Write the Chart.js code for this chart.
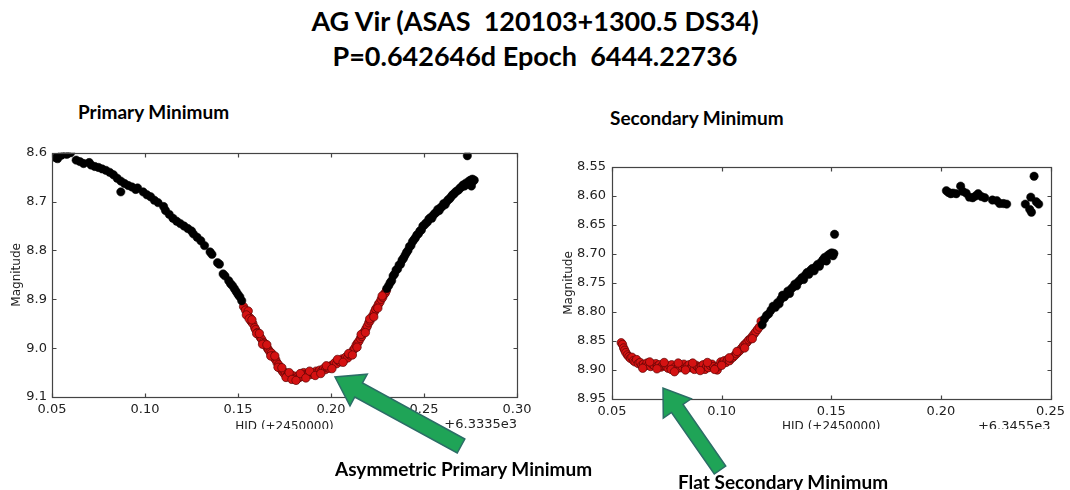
<!DOCTYPE html>
<html>
<head>
<meta charset="utf-8">
<script src="https://cdn.jsdelivr.net/npm/chart.js@4.4.1/dist/chart.umd.min.js"></script>
<style>
  html, body { margin:0; padding:0; background:#fff; }
  body { width:1070px; height:490px; position:relative; overflow:hidden; font-family:'Lato', sans-serif; }
  .t { position:absolute; white-space:pre; font-weight:bold; color:#000; font-family:'Lato', sans-serif; }
  .box { position:absolute; overflow:hidden; }
  svg { position:absolute; left:0; top:0; }
</style>
</head>
<body>
<div class="t" id="title1" style="left:0;width:1070px;text-align:center;top:4px;font-size:27px;">AG Vir (ASAS  120103+1300.5 DS34)</div>
<div class="t" id="title2" style="left:0;width:1070px;text-align:center;top:39px;font-size:27px;">P=0.642646d Epoch  6444.22736</div>
<div class="t" style="left:78px;top:100px;font-size:19px;">Primary Minimum</div>
<div class="t" style="left:610px;top:106px;font-size:19px;">Secondary Minimum</div>

<div class="box" style="left:0;top:140px;width:540px;height:289px;"><canvas id="c1" width="540" height="320"></canvas></div>
<div class="box" style="left:540px;top:150px;width:530px;height:279px;"><canvas id="c2" width="530" height="320"></canvas></div>

<svg width="1070" height="490" id="arrows"></svg>
<div class="t" style="left:335px;top:457px;font-size:19px;">Asymmetric Primary Minimum</div>
<div class="t" style="left:678px;top:470px;font-size:19px;">Flat Secondary Minimum</div>

<script>
// ---------- Primary minimum data ----------
const primXTicks = [0.05, 0.10, 0.15, 0.20, 0.25, 0.30];
const primYTicks = [8.6, 8.7, 8.8, 8.9, 9.0, 9.1];
const primOffset = '+6.3335e3';

const primBlackLeftX = [0.052,0.053,0.055,0.057,0.058,0.060,0.063,0.065,0.067,0.070,0.071,0.073,0.075,0.077,0.079,0.081,0.083,0.085,0.087,0.087,0.089,0.091,0.093,0.095,0.096,0.099,0.101,0.103,0.105,0.107,0.110,0.111,0.113,0.115,0.117,0.119,0.121,0.123,0.125,0.126,0.128,0.130,0.132,0.135,0.136,0.139,0.140,0.142,0.143,0.145,0.146,0.147,0.148,0.149,0.150,0.151,0.152];
const primBlackLeftY = [8.610,8.612,8.605,8.602,8.603,8.600,8.615,8.618,8.622,8.620,8.625,8.628,8.630,8.633,8.636,8.640,8.645,8.652,8.658,8.680,8.663,8.667,8.670,8.675,8.672,8.680,8.686,8.690,8.697,8.702,8.710,8.718,8.726,8.734,8.740,8.745,8.750,8.755,8.760,8.766,8.773,8.780,8.790,8.803,8.808,8.825,8.828,8.848,8.852,8.862,8.868,8.872,8.878,8.884,8.890,8.895,8.903];

const primRedX = [0.1530,0.1540,0.1550,0.1555,0.1565,0.1570,0.1580,0.1590,0.1595,0.1605,0.1610,0.1620,0.1628,0.1635,0.1642,0.1650,0.1658,0.1665,0.1672,0.1680,0.1688,0.1695,0.1703,0.1710,0.1718,0.1725,0.1733,0.1740,0.1748,0.1755,0.1763,0.1770,0.1778,0.1785,0.1793,0.1800,0.1808,0.1815,0.1822,0.1830,0.1838,0.1845,0.1853,0.1860,0.1870,0.1880,0.1890,0.1900,0.1910,0.1920,0.1930,0.1940,0.1950,0.1960,0.1970,0.1980,0.1990,0.2000,0.2010,0.2020,0.2030,0.2040,0.2050,0.2060,0.2070,0.2080,0.2090,0.2100,0.2110,0.2120,0.2128,0.2135,0.2142,0.2150,0.2158,0.2165,0.2172,0.2180,0.2188,0.2195,0.2203,0.2210,0.2218,0.2225,0.2233,0.2240,0.2248,0.2255,0.2263,0.2270,0.2278,0.2285,0.2292,0.2298,
  0.1545,0.1560,0.1575,0.1600,0.1615,0.1632,0.1655,0.1676,0.1698,0.1715,0.1736,0.1758,0.1775,0.1790,0.1812,0.1835,0.1865,0.1885,0.1915,0.1945,0.1975,0.2005,0.2035,0.2065,0.2095,0.2115,0.2140,0.2162,0.2185,0.2208,0.2230,0.2252,0.2275];
const primRedY = [8.915,8.922,8.930,8.924,8.938,8.945,8.950,8.958,8.962,8.968,8.972,8.978,8.982,8.988,8.990,8.995,9.000,9.004,9.008,9.010,9.016,9.020,9.024,9.030,9.034,9.040,9.044,9.048,9.052,9.050,9.056,9.054,9.058,9.055,9.060,9.057,9.062,9.064,9.058,9.060,9.055,9.058,9.050,9.054,9.056,9.052,9.054,9.050,9.052,9.047,9.049,9.045,9.047,9.042,9.044,9.040,9.041,9.036,9.034,9.030,9.032,9.026,9.028,9.022,9.024,9.018,9.020,9.014,9.010,9.004,9.000,8.994,8.990,8.986,8.980,8.976,8.970,8.966,8.960,8.955,8.948,8.944,8.938,8.933,8.926,8.920,8.916,8.910,8.906,8.900,8.896,8.890,8.887,8.882,
  8.932,8.940,8.942,8.970,8.970,8.992,8.993,9.016,9.016,9.039,9.040,9.060,9.050,9.064,9.066,9.052,9.061,9.047,9.056,9.052,9.036,9.042,9.023,9.029,9.011,9.014,8.998,8.972,8.968,8.940,8.936,8.918,8.893];

const primBlackRightX = [0.2300,0.2310,0.2318,0.2326,0.2334,0.2342,0.2350,0.2358,0.2366,0.2374,0.2382,0.2390,0.2398,0.2406,0.2414,0.2422,0.2430,0.2438,0.2446,0.2454,0.2462,0.2470,0.2478,0.2486,0.2494,0.2502,0.2510,0.2518,0.2526,0.2534,0.2542,0.2550,0.2558,0.2566,0.2574,0.2582,0.2590,0.2598,0.2606,0.2614,0.2622,0.2630,0.2638,0.2646,0.2654,0.2662,0.2670,0.2678,0.2686,0.2694,0.2702,0.2710,0.2718,0.2726,0.2734,0.2742,0.2750,0.2755,0.2760,0.2765,0.2770,0.2733];
const primBlackRightY = [8.878,8.872,8.866,8.862,8.852,8.848,8.840,8.838,8.830,8.828,8.820,8.816,8.810,8.804,8.800,8.792,8.790,8.782,8.778,8.774,8.768,8.766,8.760,8.758,8.750,8.748,8.744,8.742,8.736,8.733,8.734,8.728,8.724,8.722,8.716,8.718,8.712,8.710,8.704,8.706,8.700,8.696,8.694,8.690,8.686,8.684,8.680,8.678,8.676,8.672,8.670,8.666,8.668,8.662,8.664,8.658,8.656,8.668,8.654,8.658,8.656,8.606];

// ---------- Secondary minimum data ----------
const secXTicks = [0.05, 0.10, 0.15, 0.20, 0.25];
const secYTicks = [8.55, 8.60, 8.65, 8.70, 8.75, 8.80, 8.85, 8.90, 8.95];
const secOffset = '+6.3455e3';

const secRedX = [0.0542,0.0548,0.0553,0.0558,0.0563,0.0570,0.0577,0.0584,0.0591,0.0598,0.0605,0.0612,0.0620,0.0628,0.0636,0.0644,0.0652,0.0660,0.0668,0.0676,0.0684,0.0692,0.0700,0.0708,0.0716,0.0724,0.0732,0.0740,0.0748,0.0756,0.0764,0.0772,0.0780,0.0788,0.0796,0.0804,0.0812,0.0820,0.0828,0.0836,0.0844,0.0852,0.0860,0.0868,0.0876,0.0884,0.0892,0.0900,0.0908,0.0916,0.0924,0.0932,0.0940,0.0948,0.0956,0.0964,0.0972,0.0980,0.0988,0.0996,0.1004,0.1012,0.1020,0.1028,0.1036,0.1044,0.1052,0.1060,0.1068,0.1076,0.1084,0.1092,0.1100,0.1108,0.1116,0.1124,0.1132,0.1140,0.1148,0.1156,0.1164,0.1172,0.1180,
  0.0640,0.0672,0.0705,0.0738,0.0770,0.0785,0.0802,0.0835,0.0868,0.0902,0.0935,0.0968,0.1000,0.1035,0.1070,0.1105,0.1140];
const secRedY = [8.853,8.856,8.862,8.866,8.870,8.874,8.877,8.880,8.878,8.884,8.886,8.882,8.889,8.887,8.892,8.890,8.893,8.888,8.891,8.894,8.890,8.892,8.889,8.893,8.891,8.895,8.892,8.890,8.894,8.897,8.893,8.891,8.900,8.895,8.898,8.892,8.896,8.894,8.890,8.897,8.893,8.891,8.896,8.894,8.899,8.892,8.895,8.897,8.893,8.891,8.899,8.894,8.896,8.892,8.890,8.894,8.897,8.900,8.893,8.886,8.888,8.884,8.887,8.882,8.884,8.880,8.878,8.875,8.872,8.869,8.866,8.862,8.858,8.855,8.852,8.848,8.846,8.842,8.838,8.834,8.830,8.826,8.816,
  8.897,8.886,8.898,8.887,8.899,8.903,8.888,8.900,8.888,8.901,8.887,8.899,8.892,8.879,8.868,8.862,8.846];

const secBlackRiseX = [0.1185,0.1195,0.1205,0.1215,0.1225,0.1235,0.1245,0.1255,0.1262,0.1270,0.1278,0.1286,0.1294,0.1302,0.1310,0.1318,0.1326,0.1334,0.1342,0.1350,0.1358,0.1366,0.1374,0.1382,0.1390,0.1398,0.1406,0.1414,0.1422,0.1430,0.1438,0.1446,0.1454,0.1462,0.1470,0.1478,0.1486,0.1494,0.1502,0.1508,0.1512,0.1515];
const secBlackRiseY = [8.822,8.812,8.806,8.803,8.797,8.790,8.792,8.784,8.786,8.778,8.771,8.774,8.770,8.764,8.768,8.760,8.757,8.752,8.755,8.748,8.745,8.741,8.744,8.736,8.732,8.735,8.728,8.725,8.729,8.722,8.718,8.721,8.714,8.710,8.706,8.712,8.702,8.700,8.698,8.703,8.699,8.666];

const secBlackMaxX = [0.2025,0.2035,0.2045,0.2055,0.2070,0.2090,0.2100,0.2115,0.2130,0.2145,0.2158,0.2170,0.2185,0.2200,0.2235,0.2255,0.2268,0.2285,0.2300,0.2385,0.2405,0.2410,0.2413,0.2425,0.2435,0.2446];
const secBlackMaxY = [8.591,8.594,8.596,8.595,8.596,8.583,8.592,8.595,8.602,8.603,8.600,8.596,8.601,8.603,8.607,8.608,8.613,8.613,8.614,8.614,8.623,8.602,8.628,8.566,8.610,8.614];

// ---------- helpers ----------
const pts = (xs, ys) => xs.map((x, i) => ({x, y: ys[i]}));
const TICK_FONT = {family: "'DejaVu Sans', sans-serif", size: 13};

const mplFrame = {
  id: 'mplFrame',
  afterDraw(chart, args, o) {
    const {ctx, chartArea: a, scales: {x, y}} = chart;
    ctx.save();
    ctx.strokeStyle = '#444';
    ctx.lineWidth = 1.2;
    const L = Math.round(a.left) + 0.5, R = Math.round(a.right) + 0.5;
    const T = Math.round(a.top) + 0.5, B = Math.round(a.bottom) + 0.5;
    ctx.strokeRect(L, T, R - L, B - T);
    ctx.beginPath();
    x.ticks.forEach(t => {
      const p = Math.round(x.getPixelForValue(t.value)) + 0.5;
      ctx.moveTo(p, B); ctx.lineTo(p, B - 4);
      ctx.moveTo(p, T); ctx.lineTo(p, T + 4);
    });
    y.ticks.forEach(t => {
      const p = Math.round(y.getPixelForValue(t.value)) + 0.5;
      ctx.moveTo(L, p); ctx.lineTo(L + 4, p);
      ctx.moveTo(R, p); ctx.lineTo(R - 4, p);
    });
    ctx.stroke();
    ctx.fillStyle = '#222';
    ctx.font = "13px 'DejaVu Sans', sans-serif";
    ctx.textAlign = 'right';
    ctx.textBaseline = 'middle';
    ctx.fillText(o.offset, a.right, a.bottom + o.offsetDy);
    ctx.restore();
  }
};

function makeChart(id, cfg) {
  const black = {backgroundColor: '#000', borderColor: '#000', borderWidth: 0.5, pointRadius: 4.2, clip: 0};
  const red = {backgroundColor: '#d41212', borderColor: '#5a0606', borderWidth: 0.7, pointRadius: 4.2, clip: 0};
  return new Chart(document.getElementById(id), {
    type: 'scatter',
    data: {
      datasets: [
        Object.assign({label: 'out', data: cfg.black}, black),
        Object.assign({label: 'min', data: cfg.red}, red)
      ]
    },
    plugins: [mplFrame],
    options: {
      responsive: false,
      animation: false,
      devicePixelRatio: 1,
      layout: {padding: cfg.padding},
      plugins: {legend: {display: false}, tooltip: {enabled: false}, mplFrame: {offset: cfg.offset, offsetDy: 28}},
      scales: {
        x: {
          type: 'linear', min: cfg.xTicks[0], max: cfg.xTicks[cfg.xTicks.length - 1],
          afterBuildTicks: s => { s.ticks = cfg.xTicks.map(v => ({value: v})); },
          afterFit: s => { s.height = cfg.xAxisH; },
          grid: {display: false, drawTicks: false},
          border: {display: false},
          ticks: {font: TICK_FONT, color: '#222', padding: 5, maxRotation: 0, autoSkip: false,
                  callback: v => Number(v).toFixed(2)},
          title: {display: true, text: 'HJD (+2450000)', font: {family: "'DejaVu Sans', sans-serif", size: 12}, color: '#222', padding: {top: 0, bottom: cfg.xTitlePad}}
        },
        y: {
          type: 'linear', reverse: true, min: cfg.yTicks[0], max: cfg.yTicks[cfg.yTicks.length - 1],
          afterBuildTicks: s => { s.ticks = cfg.yTicks.map(v => ({value: v})); },
          afterFit: s => { s.width = cfg.yAxisW; },
          grid: {display: false, drawTicks: false},
          border: {display: false},
          ticks: {font: TICK_FONT, color: '#222', padding: cfg.yPad, autoSkip: false,
                  callback: v => Number(v).toFixed(cfg.yDec)},
          title: {display: true, text: 'Magnitude', font: {family: "'DejaVu Sans', sans-serif", size: 12}, color: '#222', padding: {top: cfg.yTitlePad, bottom: 0}}
        }
      }
    }
  });
}

makeChart('c1', {
  black: pts(primBlackLeftX, primBlackLeftY).concat(pts(primBlackRightX, primBlackRightY)),
  red: pts(primRedX, primRedY),
  xTicks: primXTicks, yTicks: primYTicks, yDec: 1, offset: primOffset,
  padding: {left: 0, top: 12, right: 23, bottom: 23},
  xAxisH: 40, yAxisW: 52, yPad: 5, xTitlePad: 3, yTitlePad: 10
});
makeChart('c2', {
  black: pts(secBlackRiseX, secBlackRiseY).concat(pts(secBlackMaxX, secBlackMaxY)),
  red: pts(secRedX, secRedY),
  xTicks: secXTicks, yTicks: secYTicks, yDec: 2, offset: secOffset,
  padding: {left: 0, top: 17, right: 14, bottom: 31},
  xAxisH: 40, yAxisW: 72, yPad: 6, xTitlePad: 5, yTitlePad: 22
});

// ---------- annotation arrows ----------
function arrow(tip, tail, sh, hh, hl) {
  const dx = tip[0] - tail[0], dy = tip[1] - tail[1];
  const len = Math.hypot(dx, dy), ux = dx / len, uy = dy / len;
  const nx = -uy, ny = ux;
  const bx = tip[0] - ux * hl, by = tip[1] - uy * hl;
  const p = [
    [tail[0] + nx * sh, tail[1] + ny * sh], [bx + nx * sh, by + ny * sh], [bx + nx * hh, by + ny * hh],
    tip, [bx - nx * hh, by - ny * hh], [bx - nx * sh, by - ny * sh], [tail[0] - nx * sh, tail[1] - ny * sh]
  ];
  return p.map(q => q[0].toFixed(1) + ',' + q[1].toFixed(1)).join(' ');
}
const svg = document.getElementById('arrows');
[[[335, 377], [461, 446], 8, 18, 27], [[663, 388], [720, 470], 7, 17, 25]].forEach(a => {
  const pg = document.createElementNS('http://www.w3.org/2000/svg', 'polygon');
  pg.setAttribute('points', arrow(...a));
  pg.setAttribute('fill', '#1fa457');
  pg.setAttribute('stroke', '#2b6d66');
  pg.setAttribute('stroke-width', '1.5');
  svg.appendChild(pg);
});
</script>
</body>
</html>
